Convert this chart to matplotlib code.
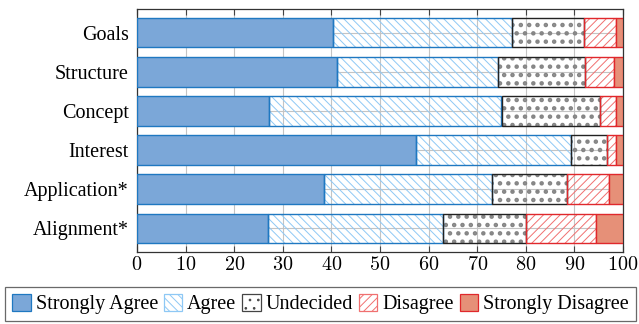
import matplotlib
matplotlib.use("Agg")
import matplotlib.pyplot as plt
from matplotlib.patches import Patch
import numpy as np

categories = ["Goals", "Structure", "Concept", "Interest", "Application*", "Alignment*"]
series_names = ["Strongly Agree", "Agree", "Undecided", "Disagree", "Strongly Disagree"]
strongly_agree = [40.4, 41.2, 27.2, 57.4, 38.5, 27.0]
agree = [36.8, 33.1, 47.8, 32.0, 34.6, 36.0]
undecided = [14.7, 17.9, 20.3, 7.4, 15.4, 17.1]
disagree = [6.6, 6.0, 3.3, 1.8, 8.6, 14.3]
strongly_disagree = [1.5, 1.8, 1.4, 1.4, 2.9, 5.6]
x_ticks = [0, 10, 20, 30, 40, 50, 60, 70, 80, 90, 100]

plt.rcParams['font.family'] = ['Liberation Serif', 'DejaVu Serif']
plt.rcParams['mathtext.fontset'] = 'cm'
plt.rcParams['hatch.linewidth'] = 0.7

FS = 14.5

styles = [
    dict(fill="#7BA7D8", hatch=None, hcol=None, edge="#1F78C1", hlw=0.7),
    dict(fill="none", hatch="\\\\\\\\", hcol="#8EC8F5", edge="#1F78C1", hlw=0.7),
    dict(fill="none", hatch="..", hcol="#858585", edge="#222222", hlw=2.0),
    dict(fill="none", hatch="////", hcol="#F07070", edge="#E0282C", hlw=0.7),
    dict(fill="#E69078", hatch=None, hcol=None, edge="#E0282C", hlw=0.7),
]

fig = plt.figure(figsize=(6.39, 3.24), dpi=100)
ax = fig.add_axes([137/639, 1-252/324, (623-137)/639, (252-9)/324])

y = np.arange(len(categories))
data = [strongly_agree, agree, undecided, disagree, strongly_disagree]
left = np.zeros(len(categories))
h = 0.76
for vals, st in zip(data, styles):
    vals = np.array(vals)
    if st["hatch"]:
        with plt.rc_context({'hatch.linewidth': st["hlw"]}):
            bars = ax.barh(y, vals, left=left, height=h, color="none", edgecolor=st["hcol"],
                           hatch=st["hatch"], linewidth=0, zorder=2)
        for b in bars:
            if hasattr(b, "set_hatch_linewidth"):
                b.set_hatch_linewidth(st["hlw"])
        ax.barh(y, vals, left=left, height=h, fill=False, edgecolor=st["edge"],
                linewidth=1.0, zorder=3)
    else:
        ax.barh(y, vals, left=left, height=h, color=st["fill"], edgecolor=st["edge"],
                linewidth=1.0, zorder=3)
    left += vals

ax.set_xlim(0, 100)
ax.set_ylim(len(categories) - 0.4, -0.6)
ax.set_xticks(x_ticks)
ax.set_xticklabels([f"${t}$" for t in x_ticks], fontsize=FS)
ax.set_yticks(y)
ax.set_yticklabels(categories, fontsize=FS)
ax.grid(True, color="#c4c4c4", linewidth=0.8, zorder=0)
ax.set_axisbelow(True)
ax.tick_params(axis="x", direction="in", top=True, bottom=True, length=4, color="#444444", pad=3)
ax.tick_params(axis="y", direction="in", left=True, right=True, length=4, color="#444444", pad=6)
for s in ax.spines.values():
    s.set_color("#333333")
    s.set_linewidth(0.9)

handles = []
for name, st in zip(series_names, styles):
    if st["hatch"]:
        with plt.rc_context({'hatch.linewidth': st["hlw"]}):
            p = Patch(facecolor="white", edgecolor=st["hcol"] if st["hatch"] != ".." else "#444444",
                      hatch=st["hatch"], label=name, linewidth=0.9)
        if hasattr(p, "set_hatch_linewidth"):
            p.set_hatch_linewidth(st["hlw"])
        handles.append(p)
    else:
        handles.append(Patch(facecolor=st["fill"], edgecolor=st["edge"], label=name, linewidth=0.9))

leg = fig.legend(handles=handles, loc="center", bbox_to_anchor=(320.5/639, 1-304/324), ncol=5,
                 fontsize=FS, frameon=True, fancybox=False, edgecolor="#444444",
                 handlelength=0.9, handleheight=0.9, handletextpad=0.25, columnspacing=0.3,
                 borderpad=0.35, borderaxespad=0)
leg.get_frame().set_linewidth(0.9)

fig.savefig("out.png", dpi=100)
